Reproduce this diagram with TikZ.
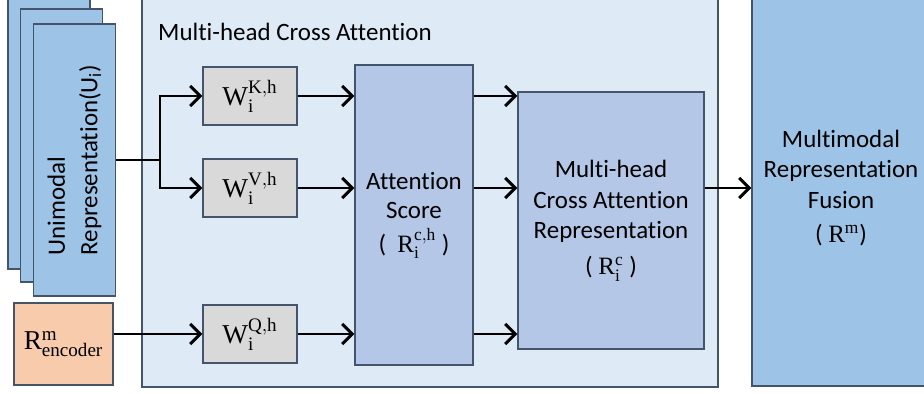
\documentclass[tikz,border=0pt]{standalone}
\usepackage{fontspec}
\setmainfont{Carlito}[Ligatures=NoCommon]
\setmathrm{Liberation Serif}
\usetikzlibrary{arrows.meta}

\definecolor{boxline}{HTML}{44546A}
\definecolor{unifill}{HTML}{9DC3E6}
\definecolor{mhcafill}{HTML}{DEEBF7}
\definecolor{scorefill}{HTML}{B4C7E7}
\definecolor{wfill}{HTML}{D9D9D9}
\definecolor{encfill}{HTML}{F8CBAD}

\begin{document}
\begin{tikzpicture}[
  x=0.02cm, y=-0.02cm,
  font=\fontsize{14.2}{16.5}\selectfont,
  blk/.style={draw=boxline, line width=0.8pt, align=center, inner sep=0pt},
  uni/.style={blk, fill=unifill, minimum width=1.64cm},
  wbox/.style={blk, fill=wfill, minimum width=1.88cm, minimum height=1.16cm,
    font=\fontsize{15.5}{18}\selectfont},
  flow/.style={-{Straight Barb[length=2mm,width=4mm]}, line width=1.7pt}
]
\useasboundingbox (0,0) rectangle (924,394);
\clip (0,0) rectangle (924,394);

% stacked unimodal inputs
\node[uni, minimum height=5.58cm] (uniC) at (49,129.5) {};
\node[uni, minimum height=5.46cm] (uniB) at (61.5,145.5) {};
\node[uni, minimum height=5.44cm] (uniA) at (74.5,160) {};
\node[rotate=90, align=left, font=\fontsize{14.2}{18.5}\selectfont] (unilabel) at (uniA)
  {Unimodal\\Representation(U\textsubscript{i})};
\node[blk, fill=encfill, minimum width=1.98cm, minimum height=1.64cm,
  font=\fontsize{15.5}{18}\selectfont] (encoder) at (63.5,344)
  {$\mathrm{R}^{\mathrm{m}}_{\vphantom{A}\mathrm{encoder}}$};

% cross attention block
\node[blk, fill=mhcafill, minimum width=11.52cm, minimum height=7.94cm] (mhca) at (430,188.5) {};
\node[anchor=west] (mhcatitle) at (152,32) {Multi-head Cross Attention};
\node[wbox] (wk) at (250,96) {$\mathrm{W}^{\mathrm{K,h}}_{\mathrm{i}}$};
\node[wbox] (wv) at (250,188) {$\mathrm{W}^{\mathrm{V,h}}_{\mathrm{i}}$};
\node[wbox] (wq) at (250,334) {$\mathrm{W}^{\mathrm{Q,h}}_{\mathrm{i}}$};
\node[blk, fill=scorefill, minimum width=2.36cm, minimum height=6cm] (score) at (414,215)
  {Attention\\Score\\[3pt]( \ $\mathrm{R}^{\mathrm{c,h}}_{\mathrm{i}}$ )};
\node[blk, fill=scorefill, minimum width=3.72cm, minimum height=5.14cm,
  font=\fontsize{14.2}{17.5}\selectfont] (rep) at (611,220.5)
  {Multi-head\\Cross Attention\\Representation\\[3pt]( $\mathrm{R}^{\mathrm{c}}_{\mathrm{i}}$ )};

% fusion
\node[blk, fill=unifill, minimum width=3.56cm, minimum height=7.92cm,
  font=\fontsize{14.2}{17.5}\selectfont] (fusion) at (841,188)
  {Multimodal\\Representation\\Fusion\\[2pt]( $\mathrm{R}^{\mathrm{m}}$)};

\coordinate (split) at (160,160);
\draw[line width=1.7pt] (uniA.east) -- (split);
\draw[flow] (split) |- (wk.west);
\draw[flow] (split) |- (wv.west);
\draw[flow] (encoder.east |- wq.west) -- (wq.west);
\draw[flow] (wk.east) -- (wk.east -| score.west);
\draw[flow] (wv.east) -- (wv.east -| score.west);
\draw[flow] (wq.east) -- (wq.east -| score.west);
\draw[flow] (score.east |- wk) -- (rep.west |- wk);
\draw[flow] (score.east |- wv) -- (rep.west |- wv);
\draw[flow] (score.east |- wq) -- (rep.west |- wq);
\draw[flow] (rep.east |- fusion.west) -- (fusion.west);
\end{tikzpicture}
\end{document}
